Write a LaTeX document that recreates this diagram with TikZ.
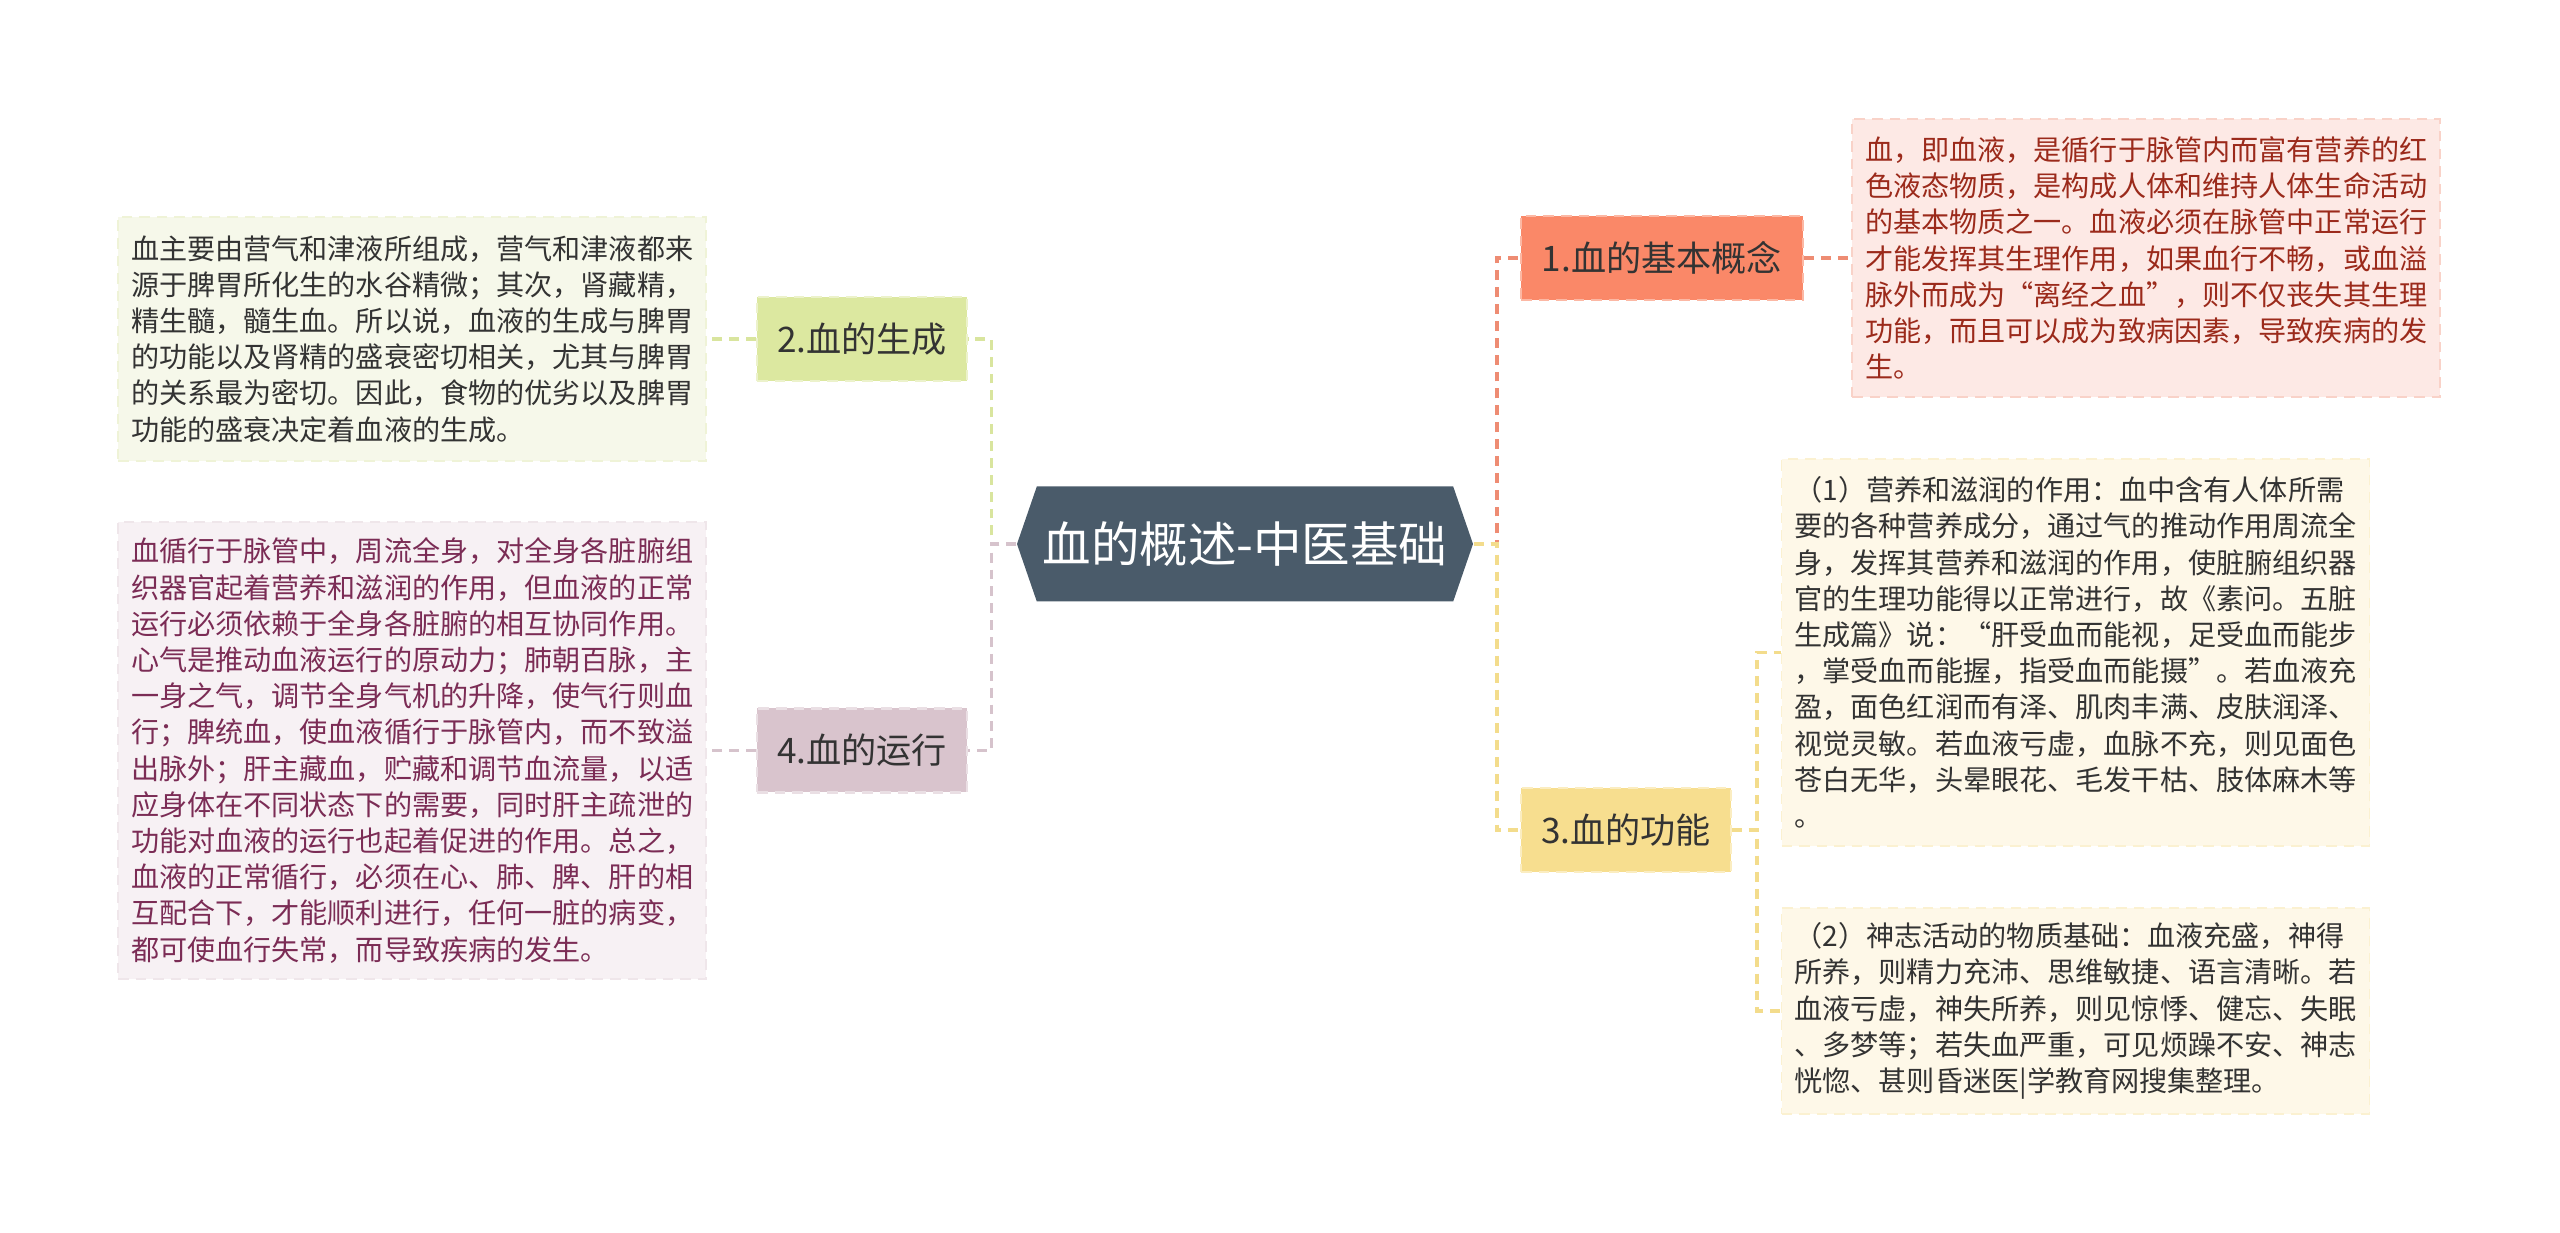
\documentclass[tikz,border=0pt]{standalone}
\usepackage{fontspec}
\setmainfont{Noto Sans CJK SC}
\usepackage{xcolor}
\usepackage{tikz}
\usetikzlibrary{positioning,shapes.symbols}

\definecolor{rootfill}{HTML}{4A5B6A}
\definecolor{darktext}{HTML}{333333}
\definecolor{redfill}{HTML}{FA8868}
\definecolor{redline}{HTML}{EE8C73}
\definecolor{redleaf}{HTML}{FDE9E5}
\definecolor{redtext}{HTML}{9B2A1B}
\definecolor{yelfill}{HTML}{F7DE8F}
\definecolor{yelline}{HTML}{F3DC8C}
\definecolor{yelleaf}{HTML}{FEF8E8}
\definecolor{grnfill}{HTML}{DCE8A0}
\definecolor{grnline}{HTML}{D9E59E}
\definecolor{grnleaf}{HTML}{F6F8EA}
\definecolor{pnkfill}{HTML}{D9C4CD}
\definecolor{pnkline}{HTML}{D6C3CC}
\definecolor{pnkleaf}{HTML}{F7F1F4}
\definecolor{pnktext}{HTML}{7B2C55}

\begin{document}
\begin{tikzpicture}[
    root/.style={signal, signal to=west and east, signal pointer angle=142, fill=rootfill, text=white,
        font=\fontsize{13.8}{16}\selectfont, minimum width=4.56cm, minimum height=1.15cm, inner sep=0pt},
    branch/.style={rectangle, font=\fontsize{10}{12}\selectfont, text=darktext, minimum width=2.1cm,
        minimum height=0.84cm, inner sep=0pt, densely dashed, line width=0.6pt},
    leaf/.style={rectangle, align=left, text width=5.62cm, inner xsep=0.13cm, inner ysep=0pt,
        font=\fontsize{8}{10.3}\selectfont, densely dashed, line width=0.5pt},
    link/.style={dash pattern=on 2.8pt off 2pt, line width=1pt}
]
    \fill[white] (0,0) rectangle (25.6,12.32);
    \useasboundingbox (0,0) rectangle (25.6,12.32);

    % Central topic
    \node[root] (root) at (12.45,6.88) {血的概述-中医基础};

    % Main branches
    \node[branch, fill=redfill, draw=redfill!60!white, minimum width=2.82cm] (basic) at (16.62,9.74) {1.血的基本概念};
    \node[branch, fill=yelfill, draw=yelfill!55!white] (func) at (16.26,4.02) {3.血的功能};
    \node[branch, fill=grnfill, draw=grnfill!55!white] (gen) at (8.62,8.93) {2.血的生成};
    \node[branch, fill=pnkfill, draw=pnkfill!55!white] (run) at (8.62,4.815) {4.血的运行};

    % Detail boxes
    \node[leaf, fill=redleaf, draw=redline!25!redleaf, text=redtext, minimum height=2.78cm] (basictxt) at (21.46,9.74) {%
        血，即血液，是循行于脉管内而富有营养的红\\
        色液态物质，是构成人体和维持人体生命活动\\
        的基本物质之一。血液必须在脉管中正常运行\\
        才能发挥其生理作用，如果血行不畅，或血溢\\
        脉外而成为“离经之血”，则不仅丧失其生理\\
        功能，而且可以成为致病因素，导致疾病的发\\
        生。};
    \node[leaf, fill=yelleaf, draw=yelline!25!yelleaf, text=darktext, minimum height=3.87cm] (func1) at (20.755,5.795) {%
        （1）营养和滋润的作用：血中含有人体所需\\
        要的各种营养成分，通过气的推动作用周流全\\
        身，发挥其营养和滋润的作用，使脏腑组织器\\
        官的生理功能得以正常进行，故《素问。五脏\\
        生成篇》说：“肝受血而能视，足受血而能步\\
        ，掌受血而能握，指受血而能摄”。若血液充\\
        盈，面色红润而有泽、肌肉丰满、皮肤润泽、\\
        视觉灵敏。若血液亏虚，血脉不充，则见面色\\
        苍白无华，头晕眼花、毛发干枯、肢体麻木等\\
        。};
    \node[leaf, fill=yelleaf, draw=yelline!25!yelleaf, text=darktext, minimum height=2.06cm] (func2) at (20.755,2.21) {%
        （2）神志活动的物质基础：血液充盛，神得\\
        所养，则精力充沛、思维敏捷、语言清晰。若\\
        血液亏虚，神失所养，则见惊悸、健忘、失眠\\
        、多梦等；若失血严重，可见烦躁不安、神志\\
        恍惚、甚则昏迷医|学教育网搜集整理。};
    \node[leaf, fill=grnleaf, draw=grnline!25!grnleaf, text=darktext, minimum height=2.44cm] (gentxt) at (4.12,8.93) {%
        血主要由营气和津液所组成，营气和津液都来\\
        源于脾胃所化生的水谷精微；其次，肾藏精，\\
        精生髓，髓生血。所以说，血液的生成与脾胃\\
        的功能以及肾精的盛衰密切相关，尤其与脾胃\\
        的关系最为密切。因此，食物的优劣以及脾胃\\
        功能的盛衰决定着血液的生成。};
    \node[leaf, fill=pnkleaf, draw=pnkline!25!pnkleaf, text=pnktext, minimum height=4.57cm] (runtxt) at (4.12,4.815) {%
        血循行于脉管中，周流全身，对全身各脏腑组\\
        织器官起着营养和滋润的作用，但血液的正常\\
        运行必须依赖于全身各脏腑的相互协同作用。\\
        心气是推动血液运行的原动力；肺朝百脉，主\\
        一身之气，调节全身气机的升降，使气行则血\\
        行；脾统血，使血液循行于脉管内，而不致溢\\
        出脉外；肝主藏血，贮藏和调节血流量，以适\\
        应身体在不同状态下的需要，同时肝主疏泄的\\
        功能对血液的运行也起着促进的作用。总之，\\
        血液的正常循行，必须在心、肺、脾、肝的相\\
        互配合下，才能顺利进行，任何一脏的病变，\\
        都可使血行失常，而导致疾病的发生。};

    % Connectors from the centre
    \draw[link, redline] (root.east) -- ++(0.23,0) |- (basic.west);
    \draw[link, yelline] (root.east) -- ++(0.23,0) |- (func.west);
    \draw[link, grnline] (root.west) -- ++(-0.25,0) |- (gen.east);
    \draw[link, pnkline] (root.west) -- ++(-0.25,0) |- (run.east);

    % Connectors to the detail boxes
    \draw[link, redline] (basic.east) -- (basictxt.west);
    \draw[link, yelline] (func.east) -- ++(0.25,0) |- (func1.west);
    \draw[link, yelline] (func.east) -- ++(0.25,0) |- (func2.west);
    \draw[link, grnline] (gen.west) -- (gentxt.east);
    \draw[link, pnkline] (run.west) -- (runtxt.east);
\end{tikzpicture}
\end{document}
